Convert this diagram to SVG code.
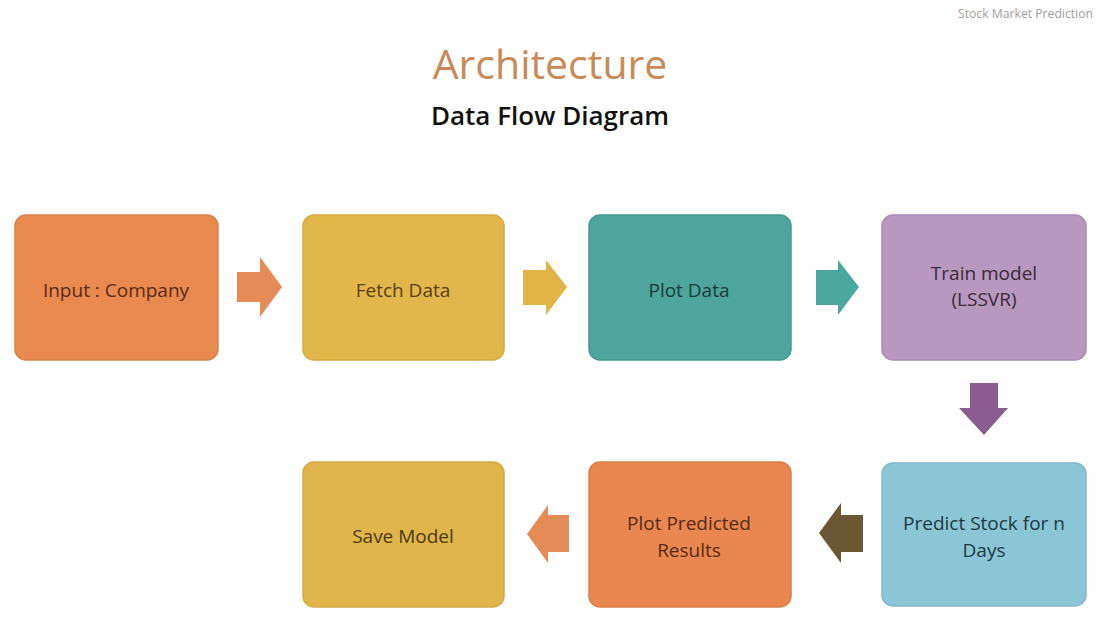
<svg xmlns="http://www.w3.org/2000/svg" width="1100" height="633" viewBox="0 0 1100 633">
<style>
.t{font-family:"Open Sans","Liberation Sans",sans-serif;font-size:19px;text-anchor:middle}
.box{stroke-width:1.5}
</style>
<rect width="1100" height="633" fill="#ffffff"/>
<text x="1093" y="18" font-family="Open Sans, Liberation Sans, sans-serif" font-size="12.2" fill="#a0a0a0" text-anchor="end">Stock Market Prediction</text>
<text x="550" y="79" font-family="Open Sans, Liberation Sans, sans-serif" font-size="41" fill="#c98a58" text-anchor="middle">Architecture</text>
<text x="550" y="125" font-family="Open Sans, Liberation Sans, sans-serif" font-size="26" font-weight="600" fill="#111111" text-anchor="middle">Data Flow Diagram</text>
<g id="n1"><rect class="box" x="15" y="215" width="203" height="145" rx="11" fill="#e8894f" stroke="#d8824e"/><text class="t" x="116" y="297" fill="#5a2a12">Input : Company</text></g>
<g id="n2"><rect class="box" x="303" y="215" width="201" height="145" rx="11" fill="#e1b64b" stroke="#d6ab45"/><text class="t" x="403" y="297" fill="#5a3e10">Fetch Data</text></g>
<g id="n3"><rect class="box" x="589" y="215" width="202" height="145" rx="11" fill="#4da59b" stroke="#479a90"/><text class="t" x="689" y="297" fill="#173c38">Plot Data</text></g>
<g id="n4"><rect class="box" x="882" y="215" width="204" height="145" rx="11" fill="#b898bf" stroke="#ab8cb2"/><text class="t" x="984" y="280" fill="#3a2838">Train model</text><text class="t" x="984" y="306" fill="#3a2838">(LSSVR)</text></g>
<g id="n5"><rect class="box" x="882" y="463" width="204" height="143" rx="11" fill="#8cc5d6" stroke="#82b9ca"/><text class="t" x="984" y="530" fill="#1b3a47">Predict Stock for n</text><text class="t" x="984" y="557" fill="#1b3a47">Days</text></g>
<g id="n6"><rect class="box" x="589" y="462" width="202" height="145" rx="11" fill="#e8874f" stroke="#d8804c"/><text class="t" x="689" y="530" fill="#5a2a12">Plot Predicted</text><text class="t" x="689" y="557" fill="#5a2a12">Results</text></g>
<g id="n7"><rect class="box" x="303" y="462" width="201" height="145" rx="11" fill="#e0b54c" stroke="#d5aa46"/><text class="t" x="403" y="543" fill="#4e3a10">Save Model</text></g>
<g id="connectors">
<polygon points="237,272 260,272 260,257 282,287 260,317 260,302 237,302" fill="#e58b57"/>
<polygon points="523,270 546,270 546,260 567,287 546,315 546,305 523,305" fill="#e0b545"/>
<polygon points="816,270 838,270 838,260 859,287 838,315 838,305 816,305" fill="#4ba8a0"/>
<polygon points="970,383 998,383 998,408 1008,408 984,435 959,408 970,408" fill="#8b5c92"/>
<polygon points="863,515 841,515 841,503 819,533 841,563 841,552 863,552" fill="#6b5733"/>
<polygon points="569,515 548,515 548,505 527,534 548,563 548,552 569,552" fill="#e48c58"/>
</g>
</svg>
